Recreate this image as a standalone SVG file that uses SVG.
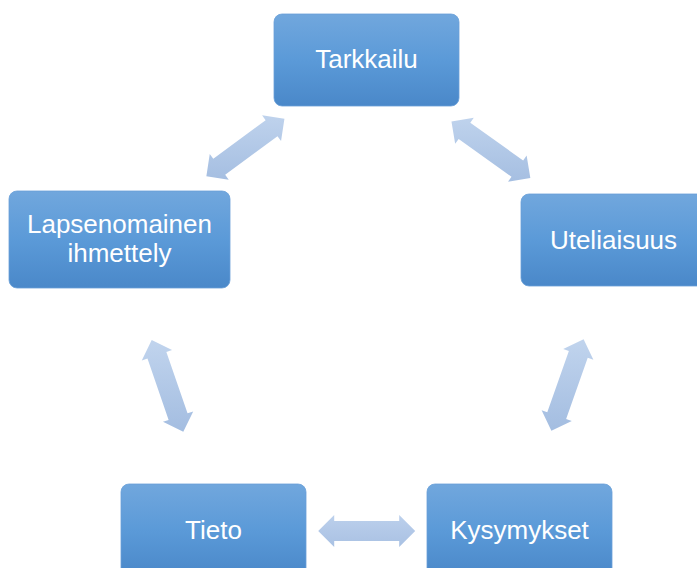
<svg xmlns="http://www.w3.org/2000/svg" width="697" height="568" viewBox="0 0 697 568">
<defs>
<linearGradient id="box" x1="0" y1="0" x2="0" y2="1">
<stop offset="0" stop-color="#71a7dd"/>
<stop offset="0.5" stop-color="#5b9ad8"/>
<stop offset="1" stop-color="#4a88c9"/>
</linearGradient>
<linearGradient id="a1" gradientUnits="userSpaceOnUse" x1="23.7" y1="-32.2" x2="-23.7" y2="32.2">
<stop offset="0" stop-color="#c2d5ee"/><stop offset="1" stop-color="#a2bce0"/>
</linearGradient>
<linearGradient id="a2" gradientUnits="userSpaceOnUse" x1="-23.3" y1="-32.5" x2="23.3" y2="32.5">
<stop offset="0" stop-color="#c2d5ee"/><stop offset="1" stop-color="#a2bce0"/>
</linearGradient>
<linearGradient id="a3" gradientUnits="userSpaceOnUse" x1="-47.3" y1="-16.3" x2="47.3" y2="16.3">
<stop offset="0" stop-color="#c2d5ee"/><stop offset="1" stop-color="#a2bce0"/>
</linearGradient>
<linearGradient id="a4" gradientUnits="userSpaceOnUse" x1="47.2" y1="-16.6" x2="-47.2" y2="16.6">
<stop offset="0" stop-color="#c2d5ee"/><stop offset="1" stop-color="#a2bce0"/>
</linearGradient>
<linearGradient id="a5" gradientUnits="userSpaceOnUse" x1="0" y1="-16" x2="0" y2="16">
<stop offset="0" stop-color="#bcd0ec"/><stop offset="1" stop-color="#a9c1e3"/>
</linearGradient>
<polygon id="arr" points="-48.5,0 -32.5,-16 -32.5,-10 32.5,-10 32.5,-16 48.5,0 32.5,16 32.5,10 -32.5,10 -32.5,16"/>
</defs>
<style>
.box{fill:url(#box);stroke:#6aa0d8;stroke-width:0.8}
.lbl{font-family:"Liberation Sans",Arial,sans-serif;font-size:26px;fill:#ffffff;text-anchor:middle}
</style>
<rect width="697" height="568" fill="#ffffff"/>
<g id="connectors">
<use href="#arr" fill="url(#a1)" transform="translate(245.4,147.5) rotate(-36.4)"/>
<use href="#arr" fill="url(#a2)" transform="translate(490.9,149.7) rotate(35.6)"/>
<use href="#arr" fill="url(#a3)" transform="translate(167.5,385.9) rotate(71)"/>
<use href="#arr" fill="url(#a4)" transform="translate(567.5,385) rotate(-70.6)"/>
<use href="#arr" fill="url(#a5)" transform="translate(366.7,531)"/>
</g>
<g id="tarkkailu">
<rect class="box" x="274" y="14" width="185" height="92" rx="8"/>
<text class="lbl" x="366.5" y="68">Tarkkailu</text>
</g>
<g id="uteliaisuus">
<rect class="box" x="521" y="194" width="185" height="92" rx="8"/>
<text class="lbl" x="613.5" y="249">Uteliaisuus</text>
</g>
<g id="lapsenomainen">
<rect class="box" x="9" y="191" width="221" height="97" rx="8"/>
<text class="lbl" x="119.5" y="232.5">Lapsenomainen</text>
<text class="lbl" x="119.5" y="262">ihmettely</text>
</g>
<g id="tieto">
<rect class="box" x="121" y="484" width="185" height="92" rx="8"/>
<text class="lbl" x="213.5" y="539">Tieto</text>
</g>
<g id="kysymykset">
<rect class="box" x="427" y="484" width="185" height="92" rx="8"/>
<text class="lbl" x="519.5" y="539">Kysymykset</text>
</g>
</svg>
